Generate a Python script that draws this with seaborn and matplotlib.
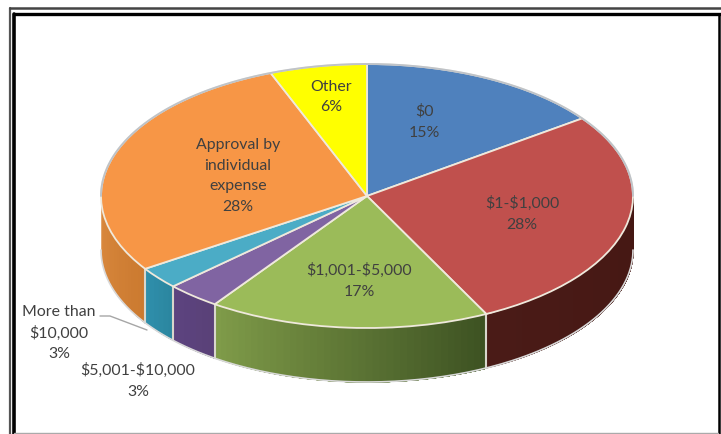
import numpy as np
import matplotlib
matplotlib.use("Agg")
import matplotlib.pyplot as plt
from matplotlib.colors import to_rgb
from matplotlib.lines import Line2D
import seaborn as sns

# Chart data
categories = ["$0", "$1-$1,000", "$1,001-$5,000", "$5,001-$10,000",
              "More than\n$10,000", "Approval by\nindividual\nexpense", "Other"]
# shares as measured from the slice edges, the labels show them rounded
values = [15.0, 27.6, 17.1, 3.3, 2.7, 28.4, 5.9]

top_colors = ["#4F81BD", "#C0504D", "#9BBB59", "#8064A2", "#4BACC6", "#F79646", "#FFFF00"]
wall_left = ["#3A5F8C", "#4A1B17", "#7F9B49", "#5C437F", "#2F8FAB", "#DB8A3F", "#C0C000"]
wall_right = ["#3A5F8C", "#451713", "#3D5222", "#5A4178", "#2B86A0", "#CB7A30", "#C0C000"]

# Label centres in image pixels
label_px = [(424, 122), (522, 214), (359, 281), (138, 381), (59, 333), (238, 176), (331, 97)]

W, H = 721, 434
CX, CY, RX, RY = 367, 196, 266, 132
DEPTH = 54 / RY

sns.set_theme(style="white")
plt.rcParams["font.family"] = ["Lato", "DejaVu Sans"]

fig = plt.figure(figsize=(W / 100, H / 100), dpi=100, facecolor="white")
ax = fig.add_axes([0, 0, 1, 1])

# Top face of the pie
palette = sns.color_palette(top_colors)
wedges, _ = ax.pie(values, colors=palette, startangle=90, counterclock=False, radius=1,
                   wedgeprops={"edgecolor": "#EFE9DC", "linewidth": 1.3, "zorder": 3})

# Unit circle stretched to the ellipse on the picture
ax.set_aspect("auto")
ax.set_xlim(-CX / RX, (W - CX) / RX)
ax.set_ylim((CY - H) / RY, CY / RY)
ax.set_axis_off()

# Side walls, only the front half can be seen
ends = 90 - np.cumsum(values) * 3.6
starts = np.r_[90, ends[:-1]]
for a1, a2, c1, c2 in zip(starts, ends, wall_left, wall_right):
    hi = min(a1, 0)
    lo = max(a2, -180)
    if hi <= lo:
        continue
    steps = max(int((hi - lo) / 1.5), 1)
    edges = np.linspace(lo, hi, steps + 1)
    for i in range(steps):
        # each strip runs to the end of the slice so no gaps show between them
        t = np.radians(np.linspace(edges[i], hi, 60))
        frac = i / max(steps - 1, 1)
        col = (1 - frac) * np.array(to_rgb(c1)) + frac * np.array(to_rgb(c2))
        ax.fill_between(np.cos(t), np.sin(t), np.sin(t) - DEPTH, color=tuple(col), lw=0, zorder=1)
    # pale seam where two walls meet
    if lo > -180:
        tt = np.radians(lo)
        ax.plot([np.cos(tt)] * 2, [np.sin(tt), np.sin(tt) - DEPTH], color="#D8D6CC", lw=1.5, zorder=2)

# Soft outline round the bottom of the walls and the back rim
t = np.radians(np.linspace(-180, 0, 200))
ax.plot(np.cos(t), np.sin(t) - DEPTH, color="#D9D9D9", lw=1.2, zorder=2)
t = np.radians(np.linspace(0, 180, 200))
ax.plot(np.cos(t), np.sin(t), color="#BFC3C8", lw=1.4, zorder=4)

# Labels
for cat, val, (px, py) in zip(categories, values, label_px):
    fig.text(px / W, 1 - py / H, f"{cat}\n{val:.0f}%", ha="center", va="center", fontsize=11.4,
             color="#404040", linespacing=1.6, parse_math=False)

# Leader line of the small slice, and the double frame
def fig_line(xs, ys, **kw):
    fig.add_artist(Line2D([x / W for x in xs], [1 - y / H for y in ys], **kw))

fig_line([100, 110, 147], [316, 316, 330], color="#A6A6A6", lw=1)
fig_line([10, 10], [8, H], color="#555555", lw=1.6)
fig_line([14, 14], [14, H], color="black", lw=2.6)
fig_line([10, W], [8, 8], color="#444444", lw=1.8)
fig_line([14, W], [13.5, 13.5], color="black", lw=2.4)
fig_line([718.5, 718.5], [14, H], color="black", lw=1.8)
fig_line([14, 718], [433, 433], color="#AAAAAA", lw=1)

fig.savefig("out.png", dpi=100)
